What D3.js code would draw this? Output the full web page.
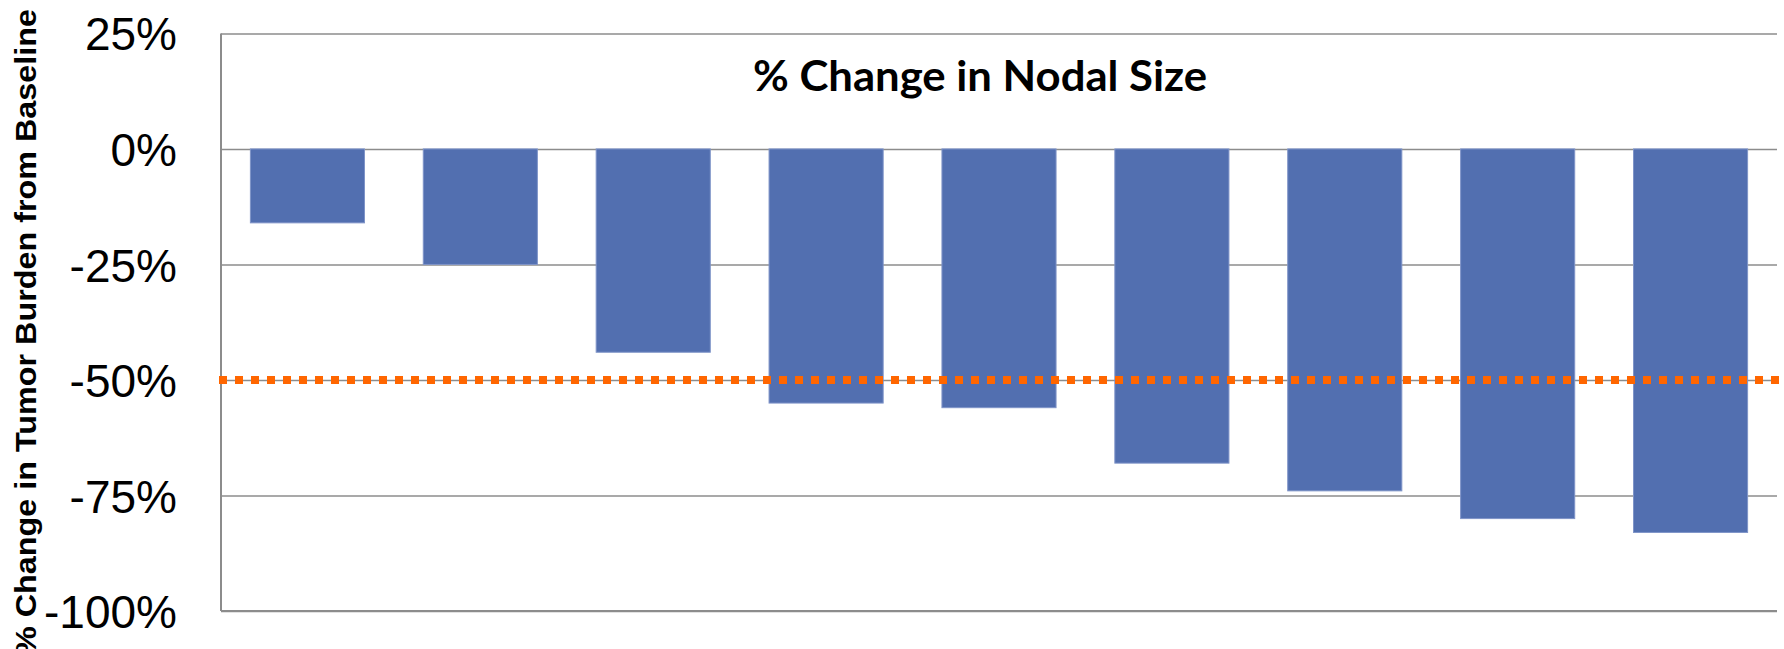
<!DOCTYPE html>
<html>
<head>
<meta charset="utf-8">
<script src="https://cdn.jsdelivr.net/npm/d3@7"></script>
<style>
  html, body { margin: 0; padding: 0; background: #fff; }
  svg { display: block; }
</style>
</head>
<body>
<svg id="chart" width="1784" height="649"></svg>
<script>
// Per-patient percent change in nodal size (sorted best-to-worst response)
const patients = ["P1", "P2", "P3", "P4", "P5", "P6", "P7", "P8", "P9"];
const pctChange = [-16, -25, -44, -55, -56, -68, -74, -80, -83];
const yTicks = [25, 0, -25, -50, -75, -100];
const responseThreshold = -50;
const chartTitle = "% Change in Nodal Size";
const yTitle = "% Change in Tumor Burden from Baseline";

const W = 1784, H = 649;
const plot = { left: 221, right: 1777, top: 33.4, bottom: 611 };

const svg = d3.select("#chart");

const x = d3.scaleBand()
  .domain(patients)
  .range([plot.left, plot.right])
  .paddingInner(0.34)
  .paddingOuter(0.17);

const y = d3.scaleLinear()
  .domain([-100, 25])
  .range([plot.bottom, plot.top]);

// Horizontal gridlines
const grid = d3.axisLeft(y)
  .tickValues(yTicks)
  .tickSize(-(plot.right - plot.left))
  .tickFormat("");
svg.append("g")
  .attr("transform", `translate(${plot.left},0)`)
  .call(grid)
  .call(g => g.select(".domain").remove())
  .call(g => g.selectAll(".tick line")
    .attr("stroke", "#8c8c8c")
    .attr("stroke-width", 1.5));

// Y tick labels
const yAxis = d3.axisLeft(y)
  .tickValues(yTicks)
  .tickSize(0)
  .tickPadding(44)
  .tickFormat(d => d + "%");
svg.append("g")
  .attr("transform", `translate(${plot.left},0)`)
  .call(yAxis)
  .call(g => g.select(".domain").remove())
  .call(g => g.selectAll(".tick text")
    .attr("font-family", "'Liberation Sans', Arial, sans-serif")
    .attr("font-size", 46)
    .attr("fill", "#000")
    .attr("dy", "0.36em"));

// Left axis line
svg.append("line")
  .attr("x1", plot.left).attr("x2", plot.left)
  .attr("y1", plot.top).attr("y2", plot.bottom)
  .attr("stroke", "#8c8c8c").attr("stroke-width", 2);

// Bars (drawn downward from 0%)
svg.append("g")
  .selectAll("rect")
  .data(pctChange)
  .join("rect")
  .attr("x", (d, i) => x(patients[i]))
  .attr("width", x.bandwidth())
  .attr("y", y(0))
  .attr("height", d => y(d) - y(0))
  .attr("fill", "#526fb0")
  .attr("stroke", "#7f94c8")
  .attr("stroke-width", 1);

// Bottom axis line
svg.append("line")
  .attr("x1", plot.left).attr("x2", plot.right)
  .attr("y1", y(-100)).attr("y2", y(-100))
  .attr("stroke", "#8c8c8c").attr("stroke-width", 2);

// -50% partial-response threshold (dotted)
svg.append("line")
  .attr("x1", plot.left - 2).attr("x2", W)
  .attr("y1", y(responseThreshold)).attr("y2", y(responseThreshold))
  .attr("stroke", "#ff6600")
  .attr("stroke-width", 8)
  .attr("stroke-dasharray", "8,8");

// Chart title
svg.append("text")
  .attr("x", 980)
  .attr("y", 91)
  .attr("text-anchor", "middle")
  .attr("font-family", "Lato, 'Open Sans', sans-serif")
  .attr("font-weight", "bold")
  .attr("font-size", 42)
  .attr("textLength", 454)
  .attr("lengthAdjust", "spacingAndGlyphs")
  .attr("fill", "#000")
  .text(chartTitle);

// Y-axis title
svg.append("text")
  .attr("transform", `translate(36,332) rotate(-90)`)
  .attr("text-anchor", "middle")
  .attr("font-family", "'Liberation Sans', Arial, sans-serif")
  .attr("font-weight", "bold")
  .attr("font-size", 30)
  .attr("textLength", 646)
  .attr("lengthAdjust", "spacingAndGlyphs")
  .attr("fill", "#000")
  .text(yTitle);
</script>
</body>
</html>
